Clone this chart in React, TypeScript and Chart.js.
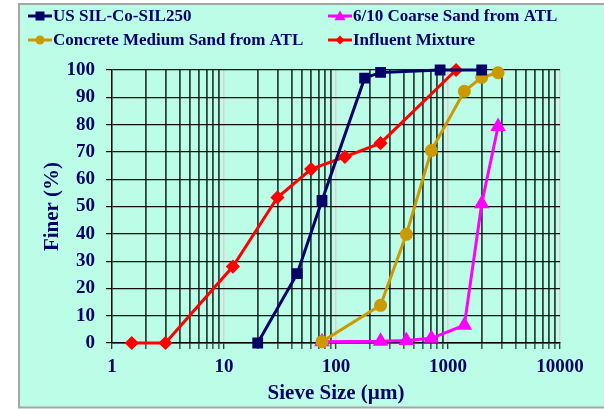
import React, { useEffect, useRef } from 'react';
import { Chart, registerables } from 'chart.js';

Chart.register(...registerables);

// ---- data ----
const usSilX = [20, 45, 75, 180, 250, 850, 2000];
const usSilY = [0, 25.4, 52.2, 97, 99.1, 100, 100];

const coarseX = [75, 250, 425, 710, 1400, 2000, 2800];
const coarseY = [0.5, 0.6, 0.9, 1.7, 6.5, 51, 79.3];

const concreteX = [75, 250, 425, 710, 1400, 2000, 2800];
const concreteY = [0.5, 13.8, 39.8, 70.5, 92.2, 97.3, 99];

const influentX = [1.5, 3, 12, 30, 60, 120, 250, 1180];
const influentY = [0, 0, 28, 53.3, 63.7, 68.2, 73.2, 100];

const seriesNames = [
  'US SIL-Co-SIL250',
  '6/10 Coarse Sand from ATL',
  'Concrete Medium Sand from ATL',
  'Influent Mixture',
];
const xLabelValues = [1, 10, 100, 1000, 10000];
const xDecades = [1, 10, 100, 1000];
const xMinorMultipliers = [1, 2, 3, 4, 5, 6, 7, 8, 9];

const NAVY = '#000066';
const MAGENTA = '#ff00ff';
const GOLD = '#cc9900';
const RED = '#ff0000';
const TEXT = '#000066';
const FONT = "'Liberation Serif', 'Times New Roman', serif";

const pts = (xs: number[], ys: number[]) => xs.map((x, i) => ({ x, y: ys[i] }));

function drawMarker(ctx: CanvasRenderingContext2D, style: string, x: number, y: number, r: number, color: string) {
  ctx.save();
  ctx.fillStyle = color;
  ctx.beginPath();
  if (style === 'rect') {
    ctx.rect(x - r, y - r, 2 * r, 2 * r);
  } else if (style === 'circle') {
    ctx.arc(x, y, r, 0, Math.PI * 2);
  } else if (style === 'triangle') {
    ctx.moveTo(x, y - r);
    ctx.lineTo(x + r, y + r * 0.75);
    ctx.lineTo(x - r, y + r * 0.75);
    ctx.closePath();
  } else if (style === 'rectRot') {
    ctx.moveTo(x, y - r);
    ctx.lineTo(x + r, y);
    ctx.lineTo(x, y + r);
    ctx.lineTo(x - r, y);
    ctx.closePath();
  }
  ctx.fill();
  ctx.restore();
}

const backgroundPlugin = {
  id: 'bgFrame',
  beforeDraw(chart: any) {
    const ctx = chart.ctx as CanvasRenderingContext2D;
    ctx.save();
    ctx.fillStyle = '#ffffff';
    ctx.fillRect(0, 0, chart.width, chart.height);
    ctx.fillStyle = '#bbfde7';
    ctx.fillRect(19, 4, chart.width - 19, 404);
    ctx.strokeStyle = '#a6a6a6';
    ctx.lineWidth = 2;
    ctx.beginPath();
    ctx.moveTo(chart.width + 2, 4);
    ctx.lineTo(19, 4);
    ctx.lineTo(19, 407.5);
    ctx.lineTo(chart.width + 2, 407.5);
    ctx.stroke();
    ctx.restore();
  },
};

const legendPlugin = {
  id: 'customLegend',
  afterDraw(chart: any) {
    const ctx = chart.ctx as CanvasRenderingContext2D;
    const items = [
      { label: seriesNames[0], color: NAVY, style: 'rect', r: 4.5, x: 28, y: 16 },
      { label: seriesNames[1], color: MAGENTA, style: 'triangle', r: 5.5, x: 328, y: 16 },
      { label: seriesNames[2], color: GOLD, style: 'circle', r: 4.5, x: 28, y: 40 },
      { label: seriesNames[3], color: RED, style: 'rectRot', r: 4.5, x: 328, y: 40 },
    ];
    ctx.save();
    items.forEach((it) => {
      ctx.strokeStyle = it.color;
      ctx.lineWidth = 3;
      ctx.beginPath();
      ctx.moveTo(it.x, it.y);
      ctx.lineTo(it.x + 24, it.y);
      ctx.stroke();
      drawMarker(ctx, it.style, it.x + 12, it.y, it.r, it.color);
      ctx.fillStyle = TEXT;
      ctx.font = `bold 17px ${FONT}`;
      ctx.textBaseline = 'middle';
      ctx.textAlign = 'left';
      ctx.fillText(it.label, it.x + 25, it.y + 1);
    });
    ctx.restore();
  },
};

export default function App() {
  const canvasRef = useRef<HTMLCanvasElement | null>(null);

  useEffect(() => {
    document.body.style.margin = '0';
    const canvas = canvasRef.current;
    if (!canvas) return;

    const xTickValues: number[] = [];
    xDecades.forEach((d) => xMinorMultipliers.forEach((m) => xTickValues.push(d * m)));
    xTickValues.push(10000);
    const isMajor = (v: number) => xLabelValues.includes(v);

    const chart = new Chart(canvas, {
      type: 'line',
      data: {
        datasets: [
          {
            label: seriesNames[0],
            data: pts(usSilX, usSilY),
            borderColor: NAVY,
            backgroundColor: NAVY,
            pointStyle: 'rect',
            pointRadius: 5.5,
            borderWidth: 3,
            clip: false,
            order: 0,
          },
          {
            label: seriesNames[2],
            data: pts(concreteX, concreteY),
            borderColor: GOLD,
            backgroundColor: GOLD,
            pointStyle: 'circle',
            pointRadius: 5,
            borderWidth: 3,
            clip: false,
            order: 1,
          },
          {
            label: seriesNames[3],
            data: pts(influentX, influentY),
            borderColor: RED,
            backgroundColor: RED,
            pointStyle: 'rectRot',
            pointRadius: 5,
            borderWidth: 3,
            clip: false,
            order: 2,
          },
          {
            label: seriesNames[1],
            data: pts(coarseX, coarseY),
            borderColor: MAGENTA,
            backgroundColor: MAGENTA,
            pointStyle: 'triangle',
            pointRadius: 6,
            borderWidth: 3,
            clip: false,
            order: 3,
          },
        ],
      },
      options: {
        responsive: false,
        animation: false,
        events: [],
        layout: { padding: { top: 70, right: 44, left: 0, bottom: 0 } },
        plugins: { legend: { display: false }, tooltip: { enabled: false }, title: { display: false } },
        elements: { line: { tension: 0 }, point: { borderWidth: 0 } },
        scales: {
          x: {
            type: 'logarithmic',
            min: 1,
            max: 10000,
            afterBuildTicks: (scale: any) => {
              scale.ticks = xTickValues.map((v) => ({ value: v, major: isMajor(v) }));
            },
            afterFit: (scale: any) => {
              scale.height = 66;
            },
            ticks: {
              autoSkip: false,
              maxRotation: 0,
              padding: 7,
              color: TEXT,
              font: { family: FONT, size: 19, weight: 'bold' },
              callback: (v: any) => (isMajor(Number(v)) ? String(v) : ''),
            },
            grid: {
              color: (ctx: any) => (ctx.tick && isMajor(ctx.tick.value) ? '#e9c9c9' : '#2a463d'),
              lineWidth: (ctx: any) => (ctx.tick && isMajor(ctx.tick.value) ? 1.5 : 1.8),
              tickLength: 6,
              tickColor: '#000000',
              tickWidth: 1,
            },
            border: { color: '#000000', width: 1.5 },
            title: {
              display: true,
              text: 'Sieve Size (µm)',
              color: TEXT,
              font: { family: FONT, size: 21, weight: 'bold' },
              padding: { top: 0, bottom: 3 },
            },
          },
          y: {
            type: 'linear',
            min: 0,
            max: 100,
            afterFit: (scale: any) => {
              scale.width = 112;
            },
            ticks: {
              stepSize: 10,
              padding: 11,
              color: TEXT,
              font: { family: FONT, size: 19, weight: 'bold' },
            },
            grid: {
              color: '#111111',
              lineWidth: 1.2,
              tickLength: 6,
              tickColor: '#000000',
            },
            border: { color: '#000000', width: 1.5 },
            title: {
              display: true,
              text: 'Finer (%)',
              color: TEXT,
              font: { family: FONT, size: 21, weight: 'bold' },
              padding: { top: 40, bottom: 0 },
            },
          },
        },
      },
      plugins: [backgroundPlugin, legendPlugin],
    } as any);

    return () => chart.destroy();
  }, []);

  return (
    <div style={{ position: 'absolute', left: 0, top: 0, width: 604, height: 409 }}>
      <canvas ref={canvasRef} width={604} height={409} style={{ display: 'block' }} />
    </div>
  );
}
